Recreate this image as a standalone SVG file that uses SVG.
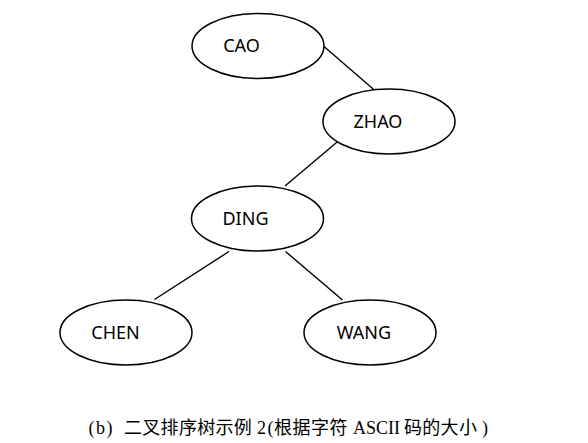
<svg xmlns="http://www.w3.org/2000/svg" width="588" height="443" viewBox="0 0 588 443">
<style>
.node ellipse{fill:#fff;stroke:#000;stroke-width:1.5}
.node text{font-family:"Noto Sans","Open Sans",sans-serif;font-size:18px;fill:#000;text-anchor:middle}
#edges line{stroke:#000;stroke-width:1.4}
.cap{font-family:"Liberation Serif","Noto Sans CJK SC",serif;font-size:18px;fill:#000}
</style>
<rect width="588" height="443" fill="#fff"/>
<g id="edges">
<line x1="324" y1="46.5" x2="379.5" y2="94.5"/>
<line x1="342.5" y1="137.5" x2="285" y2="186"/>
<line x1="229" y1="251.5" x2="154.5" y2="299.5"/>
<line x1="285.5" y1="251.5" x2="342.5" y2="300"/>
</g>
<g id="node-cao" class="node"><ellipse cx="258" cy="46" rx="66" ry="32.5"/><text x="241.5" y="52">CAO</text></g>
<g id="node-zhao" class="node"><ellipse cx="389" cy="121.5" rx="66" ry="32.5"/><text x="378" y="127.5">ZHAO</text></g>
<g id="node-ding" class="node"><ellipse cx="257.5" cy="218.5" rx="66" ry="32.5"/><text x="245.5" y="225">DING</text></g>
<g id="node-chen" class="node"><ellipse cx="126" cy="332.5" rx="66" ry="32.5"/><text x="115.5" y="339">CHEN</text></g>
<g id="node-wang" class="node"><ellipse cx="370" cy="332.5" rx="66" ry="32.5"/><text x="364" y="339">WANG</text></g>
<text class="cap" y="434"><tspan x="88.5 96 106.5">(b)</tspan><tspan x="124 142.3 160.6 178.9 197.2 215.5 233.8">二叉排序树示例</tspan><tspan x="257 267.5">2(</tspan><tspan x="274 292.5 311 329.5">根据字符</tspan><tspan x="353">ASCII</tspan><tspan x="404 422.3 440.6 458.9">码的大小</tspan><tspan x="482">)</tspan></text>
</svg>
